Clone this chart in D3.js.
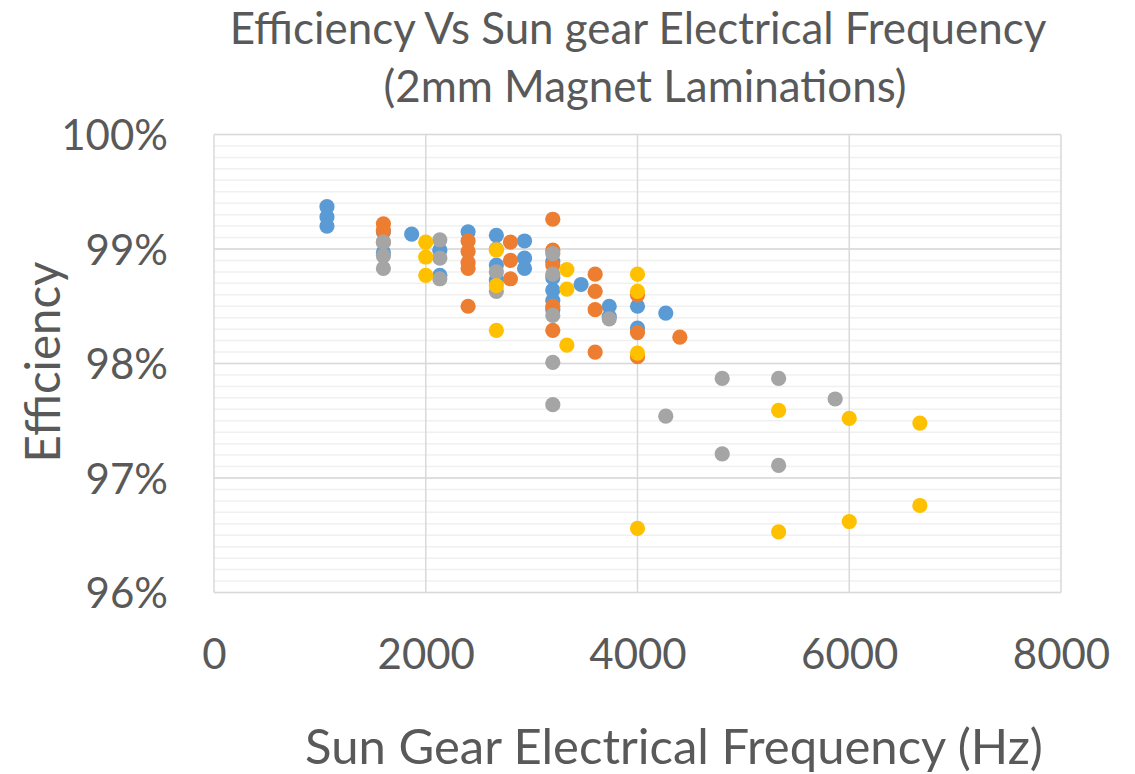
<!DOCTYPE html>
<html>
<head>
<meta charset="utf-8">
<script src="https://cdn.jsdelivr.net/npm/d3@7"></script>
<style>
  body { margin: 0; background: #fff; }
  text { font-family: Lato, "Open Sans", sans-serif; fill: #595959; }
</style>
</head>
<body>
<div id="chart"></div>
<script>
// ---- data (frequency in Hz, efficiency in %) ----
var blueFreq = [1067, 1067, 1067, 1600, 1600, 1867, 2133, 2133, 2400, 2667, 2667, 2667, 2933, 2933, 2933,
                3200, 3200, 3200, 3200, 3200, 3467, 3733, 3733, 4000, 4000, 4267];
var blueEff  = [99.37, 99.28, 99.20, 99.15, 98.97, 99.13, 98.99, 98.77, 99.15, 99.12, 98.86, 98.73, 99.07, 98.92, 98.83,
                98.89, 98.75, 98.64, 98.55, 98.47, 98.69, 98.50, 98.41, 98.50, 98.31, 98.44];

var orangeFreq = [1600, 1600, 1600, 2400, 2400, 2400, 2400, 2400, 2800, 2800, 2800, 3200, 3200, 3200, 3200, 3200,
                  3600, 3600, 3600, 3600, 4000, 4000, 4000, 4400];
var orangeEff  = [99.22, 99.16, 99.06, 99.07, 98.98, 98.88, 98.83, 98.50, 99.06, 98.90, 98.74, 99.26, 98.99, 98.86, 98.50, 98.29,
                  98.78, 98.63, 98.47, 98.10, 98.60, 98.27, 98.06, 98.23];

var grayFreq = [1600, 1600, 1600, 2133, 2133, 2133, 2667, 2667, 2667, 3200, 3200, 3200, 3200, 3200,
                3733, 4267, 4800, 4800, 5333, 5333, 5867];
var grayEff  = [99.06, 98.94, 98.83, 99.08, 98.92, 98.74, 99.00, 98.80, 98.63, 98.96, 98.78, 98.42, 98.01, 97.64,
                98.39, 97.54, 97.87, 97.21, 97.87, 97.11, 97.69];

var yellowFreq = [2000, 2000, 2000, 2667, 2667, 2667, 3333, 3333, 3333, 4000, 4000, 4000, 4000,
                  5333, 5333, 6000, 6000, 6667, 6667];
var yellowEff  = [99.06, 98.93, 98.77, 98.99, 98.68, 98.29, 98.82, 98.65, 98.16, 98.78, 98.63, 98.09, 96.56,
                  97.59, 96.53, 97.52, 96.62, 97.48, 96.76];

var xTicks = [0, 2000, 4000, 6000, 8000];
var yTicks = [0.96, 0.97, 0.98, 0.99, 1.00];

var titleLines = ["Efficiency Vs Sun gear Electrical Frequency", "(2mm Magnet Laminations)"];

// ---- layout ----
var W = 1135, H = 774;
var plot = {left: 214, right: 1061, top: 134.5, bottom: 592.5};

var svg = d3.select("#chart").append("svg")
  .attr("width", W)
  .attr("height", H);

var x = d3.scaleLinear().domain([0, 8000]).range([plot.left, plot.right]);
var y = d3.scaleLinear().domain([0.96, 1.00]).range([plot.bottom, plot.top]);

// shrink/grow a text so it spans the given width
function fitWidth(sel, w) {
  var len = sel.node().getComputedTextLength();
  var fs = parseFloat(sel.attr("font-size"));
  sel.attr("font-size", fs * w / len);
}

// minor horizontal gridlines
var minor = d3.range(960, 1001).map(function(d) { return d / 1000; });
svg.append("g").selectAll("line")
  .data(minor)
  .enter().append("line")
    .attr("x1", plot.left).attr("x2", plot.right)
    .attr("y1", function(d) { return y(d); })
    .attr("y2", function(d) { return y(d); })
    .attr("stroke", "#f0f0f0")
    .attr("stroke-width", 1.5);

// major gridlines
svg.append("g").selectAll("line")
  .data(yTicks)
  .enter().append("line")
    .attr("x1", plot.left).attr("x2", plot.right)
    .attr("y1", function(d) { return y(d); })
    .attr("y2", function(d) { return y(d); })
    .attr("stroke", "#d9d9d9")
    .attr("stroke-width", 1.5);

svg.append("g").selectAll("line")
  .data(xTicks)
  .enter().append("line")
    .attr("x1", function(d) { return x(d); })
    .attr("x2", function(d) { return x(d); })
    .attr("y1", plot.top).attr("y2", plot.bottom)
    .attr("stroke", "#d9d9d9")
    .attr("stroke-width", 1.5);

// axes (labels only, Excel style)
var yAxis = svg.append("g")
  .attr("transform", "translate(" + (plot.left - 46) + ",0)")
  .call(d3.axisLeft(y).tickValues(yTicks).tickFormat(d3.format(".0%")).tickSize(0).tickPadding(0));
yAxis.select(".domain").remove();
yAxis.selectAll("text")
  .attr("font-size", 42)
  .attr("dy", "0.36em")
  .style("font-family", "Lato, sans-serif")
  .attr("fill", "#595959");

var xAxis = svg.append("g")
  .attr("transform", "translate(0," + (plot.bottom + 47) + ")")
  .call(d3.axisBottom(x).tickValues(xTicks).tickFormat(d3.format("d")).tickSize(0).tickPadding(0));
xAxis.select(".domain").remove();
xAxis.selectAll("text")
  .attr("font-size", 42)
  .attr("dy", "0.71em")
  .style("font-family", "Lato, sans-serif")
  .attr("fill", "#595959");

// series
var series = [
  {freq: blueFreq, eff: blueEff, color: "#5b9bd5"},
  {freq: orangeFreq, eff: orangeEff, color: "#ed7d31"},
  {freq: grayFreq, eff: grayEff, color: "#a5a5a5"},
  {freq: yellowFreq, eff: yellowEff, color: "#ffc000"}
];

series.forEach(function(s) {
  svg.append("g").selectAll("circle")
    .data(s.freq.map(function(f, i) { return {f: f, e: s.eff[i] / 100}; }))
    .enter().append("circle")
      .attr("cx", function(d) { return x(d.f); })
      .attr("cy", function(d) { return y(d.e); })
      .attr("r", 7.6)
      .attr("fill", s.color);
});

// title
var t1 = svg.append("text")
  .attr("x", 638).attr("y", 44)
  .attr("text-anchor", "middle")
  .attr("font-size", 40)
  .text(titleLines[0]);
fitWidth(t1, 817);
var t2 = svg.append("text")
  .attr("x", 645).attr("y", 102)
  .attr("text-anchor", "middle")
  .attr("font-size", t1.attr("font-size"))
  .text(titleLines[1]);

// axis titles
var yt = svg.append("text")
  .attr("transform", "translate(60,362) rotate(-90)")
  .attr("text-anchor", "middle")
  .attr("font-size", 50)
  .text("Efficiency");
fitWidth(yt, 201);

var xt = svg.append("text")
  .attr("x", 674).attr("y", 764)
  .attr("text-anchor", "middle")
  .attr("font-size", 46)
  .text("Sun Gear Electrical Frequency (Hz)");
fitWidth(xt, 738);
</script>
</body>
</html>
